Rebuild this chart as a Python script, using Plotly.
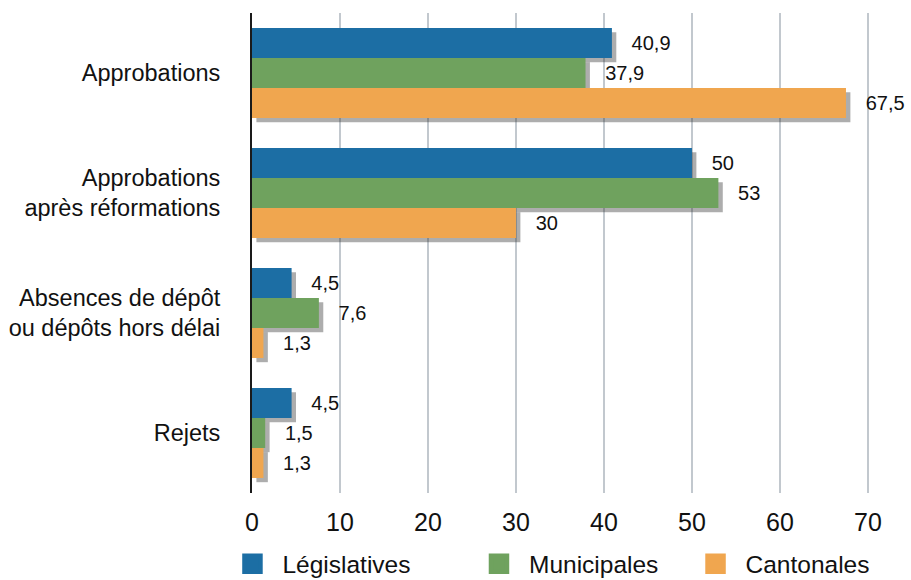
import plotly.graph_objects as go

categories = ["Approbations", "Approbations<br>après réformations",
              "Absences de dépôt<br>ou dépôts hors délai", "Rejets"]
series_names = ["Législatives", "Municipales", "Cantonales"]
legislatives = [40.9, 50, 4.5, 4.5]
municipales = [37.9, 53, 7.6, 1.5]
cantonales = [67.5, 30, 1.3, 1.3]
x_ticks = [0, 10, 20, 30, 40, 50, 60, 70]

colors = ["#1c6ea4", "#6fa25e", "#f0a64f"]
series_values = [legislatives, municipales, cantonales]

FONT = "Liberation Sans, Arial, Helvetica, sans-serif"
X_MAX = 73.98          # 8.8 px per unit across the plot width
SHADOW_DX = 0.5        # ~4 px
SHADOW_DY = 0.035      # ~4 px
LEGEND_X = [0.2442, 0.5148, 0.7525]


def fmt(v):
    s = f"{v:g}".replace(".", ",")
    return "\u00a0\u00a0\u00a0" + s


fig = go.Figure()

# soft drop shadows, drawn on the base axes that are shifted a few pixels
for name, vals in zip(series_names, series_values):
    fig.add_trace(go.Bar(
        y=categories, x=vals, orientation="h", name=name,
        marker=dict(color="rgba(50,50,50,0.4)", line=dict(width=0)),
        showlegend=False, hoverinfo="skip",
        xaxis="x", yaxis="y",
    ))

# the bars themselves with their value labels
for name, vals, col in zip(series_names, series_values, colors):
    fig.add_trace(go.Bar(
        y=categories, x=vals, orientation="h", name=name,
        marker=dict(color=col, line=dict(width=0)),
        text=[fmt(v) for v in vals], textposition="outside",
        textfont=dict(family=FONT, size=20, color="#111111"),
        cliponaxis=False, constraintext="none",
        showlegend=False,
        xaxis="x2", yaxis="y2",
    ))

# one legend per series, each with a large square swatch
legend_ids = ["legend", "legend2", "legend3"]
for name, col, lid in zip(series_names, colors, legend_ids):
    fig.add_trace(go.Scatter(
        x=[None], y=[None], mode="markers", name=name,
        marker=dict(symbol="square", size=16, color=col,
                    line=dict(color=col, width=4.5)),
        xaxis="x2", yaxis="y2", legend=lid,
    ))

cat_range = [3.5, -0.5]
legend_common = dict(orientation="h", xref="container", yref="container",
                     y=0.028, xanchor="left", yanchor="middle",
                     itemsizing="trace", itemwidth=50,
                     font=dict(family=FONT, size=24.5, color="#111111"),
                     bgcolor="rgba(0,0,0,0)")

fig.update_layout(
    width=911, height=580,
    margin=dict(l=252, r=8, t=13, b=87, autoexpand=False),
    paper_bgcolor="white", plot_bgcolor="white",
    barmode="group", bargap=0.25, bargroupgap=0,
    font=dict(family=FONT, color="#111111"),
    xaxis=dict(range=[-SHADOW_DX, X_MAX - SHADOW_DX], showgrid=False,
               showticklabels=False, zeroline=False, ticks=""),
    yaxis=dict(type="category", categoryarray=categories, categoryorder="array",
               range=[cat_range[0] - SHADOW_DY, cat_range[1] - SHADOW_DY],
               showgrid=False, showticklabels=False, zeroline=False, ticks=""),
    xaxis2=dict(overlaying="x", range=[0, X_MAX], tickvals=x_ticks,
                showgrid=True, gridcolor="#c2c8ce", gridwidth=2,
                zeroline=False, ticks="", ticklabelstandoff=12,
                tickfont=dict(family=FONT, size=25, color="#111111"),
                anchor="y2", side="bottom"),
    yaxis2=dict(overlaying="y", type="category", categoryarray=categories,
                categoryorder="array", range=cat_range, anchor="x2", side="left",
                showgrid=False, zeroline=False, ticks="",
                showline=True, linecolor="#1a1a1a", linewidth=2,
                ticklabelstandoff=25,
                tickfont=dict(family=FONT, size=23.5, color="#111111")),
    legend=dict(x=LEGEND_X[0], **legend_common),
    legend2=dict(x=LEGEND_X[1], **legend_common),
    legend3=dict(x=LEGEND_X[2], **legend_common),
)

fig.write_html("out.html")
